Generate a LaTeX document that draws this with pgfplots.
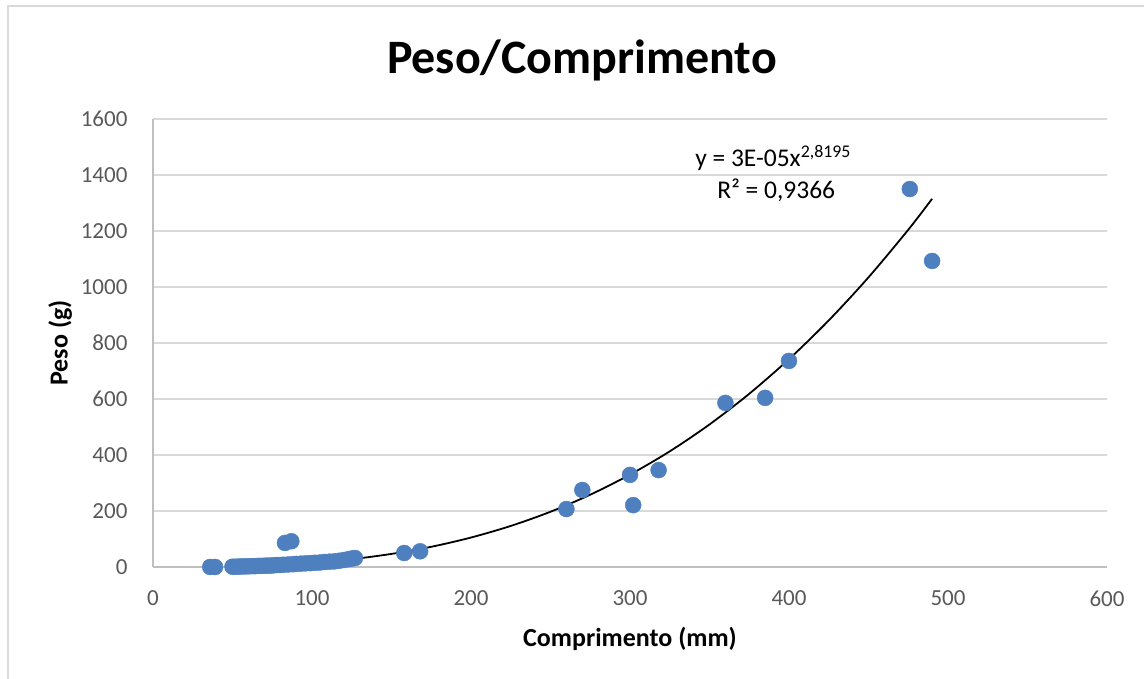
\documentclass[border=0pt]{standalone}
\usepackage{pgfplots}
\pgfplotsset{compat=1.18}
\usepackage{fontspec}
\setmainfont{Carlito}
\definecolor{markblue}{HTML}{4E80C0}
\definecolor{gridgray}{HTML}{D9D9D9}
\definecolor{axisgray}{HTML}{BFBFBF}
\definecolor{ticktext}{HTML}{595959}
\begin{document}
\begin{tikzpicture}
\path[use as bounding box] (0,0) rectangle (1144pt,679pt);
\draw[gridgray, line width=1.5pt] (8pt,0) -- (8pt,673pt) -- (1144pt,673pt);
\node[font=\fontsize{48}{54}\selectfont\bfseries] at (582pt,619pt) {Peso/Comprimento};
\begin{axis}[
  at={(153pt,112pt)}, anchor=south west,
  scale only axis, width=954pt, height=448pt,
  xmin=0, xmax=600, ymin=0, ymax=1600,
  xtick={0,100,...,600}, ytick={0,200,...,1600},
  axis x line*=bottom, axis y line*=left,
  axis line style={axisgray, line width=1.5pt},
  x axis line style={-}, y axis line style={-},
  major tick length=0pt,
  ymajorgrids, grid style={gridgray, line width=1.5pt},
  tick label style={font=\fontsize{23}{26}\selectfont, text=ticktext},
  /pgf/number format/assume math mode=true,
  /pgf/number format/set thousands separator={},
  xticklabel style={yshift=-20pt},
  yticklabel style={xshift=-22pt},
  xlabel={\textbf{Comprimento (mm)}},
  ylabel={\textbf{Peso (g)}},
  label style={font=\fontsize{26}{30}\selectfont},
  xlabel style={yshift=-14pt},
  ylabel style={yshift=2pt},
  clip=false,
]
\addplot[black, line width=1.8pt, smooth] coordinates {
(50,2.11)(75,6.62)(100,14.89)(125,27.93)(150,46.75)(175,72.15)(200,105.2)(225,146.6)(250,197.3)(275,258.2)(300,329.9)(325,413.1)(350,509.1)(375,618.7)(400,742.3)(425,880.7)(450,1034.5)(475,1204.4)(490,1315)
};
\addplot[only marks, mark=*, mark size=8pt, mark options={fill=markblue, draw=markblue}] coordinates {
(36,0)(39,0)(50,1)(52,1)(54,1.5)(56,2)(58,2)(60,2.5)(62,3)(64,3)(66,4)(68,4)(70,4.5)(72,5)(74,5)(76,6)(78,7)(80,7)(82,8)(85,9)(88,10)(90,11)(93,12)(96,13)(99,14)(102,15)(105,16)(108,18)(111,19)(114,20)(117,22)(120,25)(123,28)(125,30)(127,32)
(83,86)(87,92)
(158,50)(168,56)
(260,207)(270,275)(300,329)(302,221)(318,346)
(360,586)(385,604)(400,736)
(476,1350)(490,1093)
};
\node[font=\fontsize{25.5}{30}\selectfont] at (axis cs:390,1461) {y = 3E-05x\textsuperscript{2,8195}};
\node[font=\fontsize{25.5}{30}\selectfont] at (axis cs:392,1346) {R² = 0,9366};
\end{axis}
\end{tikzpicture}
\end{document}
